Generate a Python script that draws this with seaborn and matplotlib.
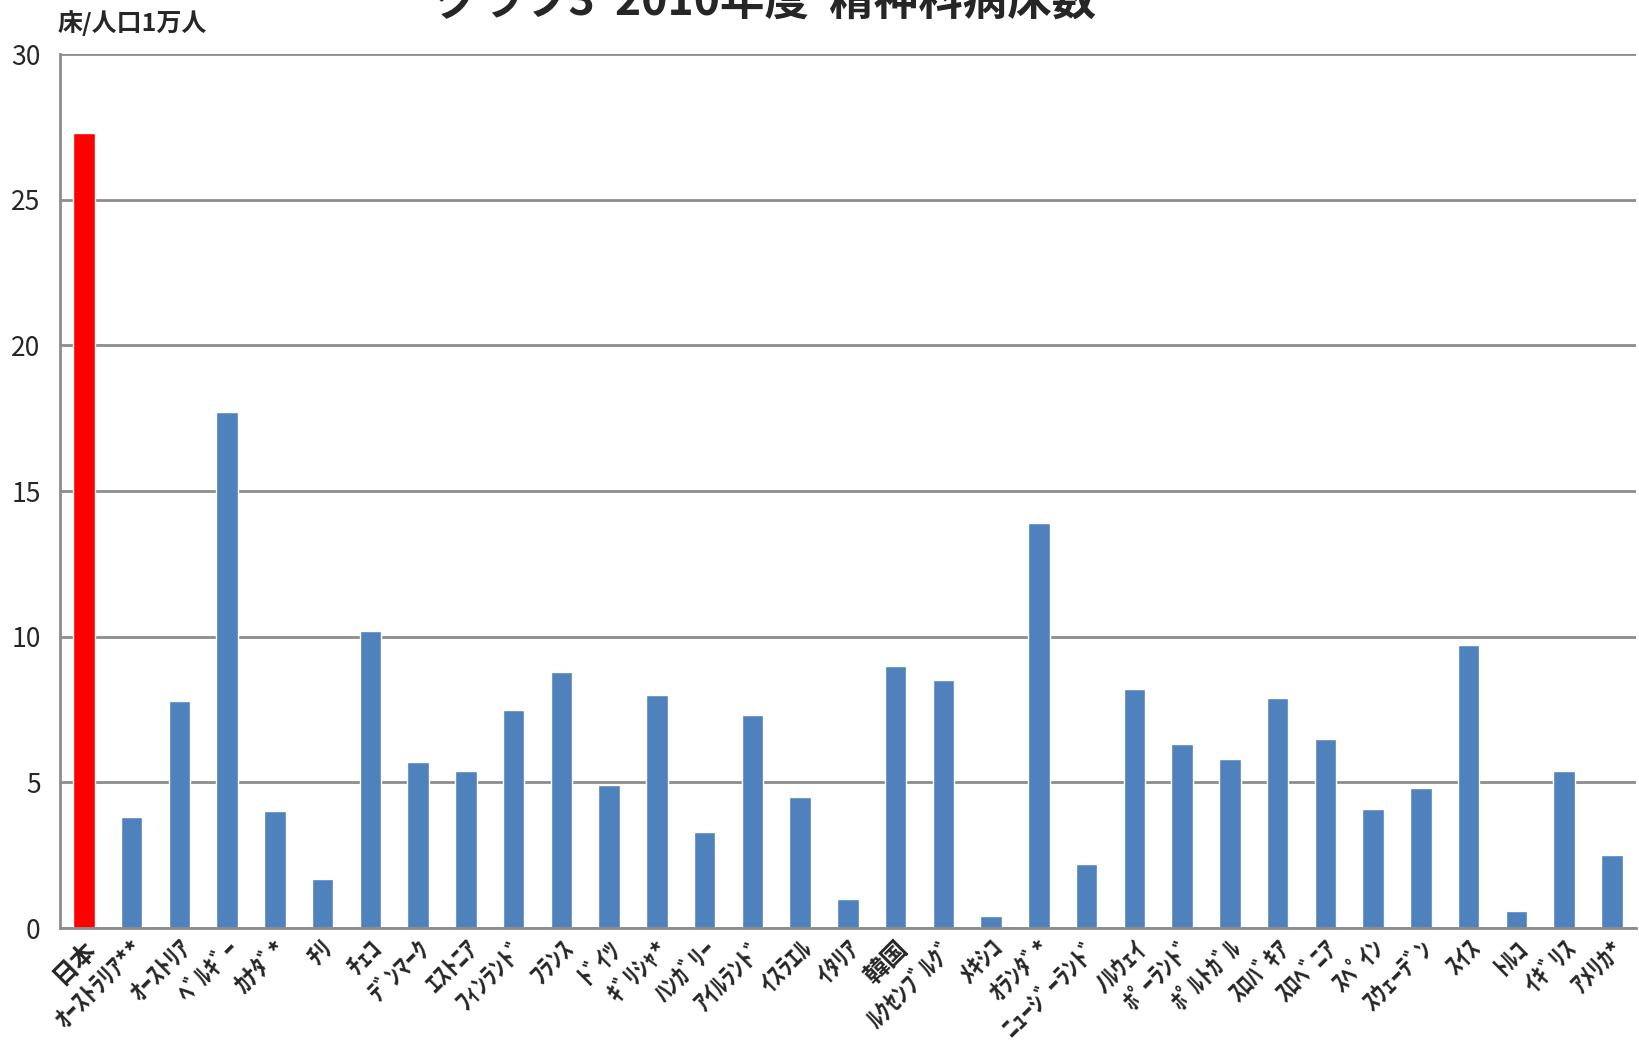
import pandas as pd
import seaborn as sns
import matplotlib.pyplot as plt

# 2010年度 OECD各国の精神科病床数 (床/人口1万人)
countries = ["日本", "ｵｰｽﾄﾗﾘｱ**", "ｵｰｽﾄﾘｱ", "ﾍﾞﾙｷﾞｰ", "ｶﾅﾀﾞ*", "ﾁﾘ", "ﾁｪｺ",
             "ﾃﾞﾝﾏｰｸ", "ｴｽﾄﾆｱ", "ﾌｨﾝﾗﾝﾄﾞ", "ﾌﾗﾝｽ", "ﾄﾞｲﾂ", "ｷﾞﾘｼｬ*", "ﾊﾝｶﾞﾘｰ",
             "ｱｲﾙﾗﾝﾄﾞ", "ｲｽﾗｴﾙ", "ｲﾀﾘｱ", "韓国", "ﾙｸｾﾝﾌﾞﾙｸﾞ", "ﾒｷｼｺ", "ｵﾗﾝﾀﾞ*",
             "ﾆｭｰｼﾞｰﾗﾝﾄﾞ", "ﾉﾙｳｪｲ", "ﾎﾟｰﾗﾝﾄﾞ", "ﾎﾟﾙﾄｶﾞﾙ", "ｽﾛﾊﾞｷｱ", "ｽﾛﾍﾞﾆｱ",
             "ｽﾍﾟｲﾝ", "ｽｳｪｰﾃﾞﾝ", "ｽｲｽ", "ﾄﾙｺ", "ｲｷﾞﾘｽ", "ｱﾒﾘｶ*"]
beds = [27.3, 3.8, 7.8, 17.7, 4.0, 1.7, 10.2,
        5.7, 5.4, 7.5, 8.8, 4.9, 8.0, 3.3,
        7.3, 4.5, 1.0, 9.0, 8.5, 0.4, 13.9,
        2.2, 8.2, 6.3, 5.8, 7.9, 6.5,
        4.1, 4.8, 9.7, 0.6, 5.4, 2.5]

df = pd.DataFrame({"country": countries, "beds": beds})
df["group"] = ["japan" if c == "日本" else "other" for c in countries]

sns.set_style("white")
plt.rcParams['font.family'] = ['Noto Sans CJK JP', 'DejaVu Sans']

fig = plt.figure(figsize=(16.39, 10.51), dpi=100)
ax = fig.add_axes([0.0366, 0.117, 0.9614, 0.8316])

sns.barplot(data=df, x="country", y="beds", hue="group",
            palette={"japan": "#ff0000", "other": "#4f81bd"},
            dodge=False, width=0.45, saturation=1, legend=False, ax=ax)

ax.set_ylim(0, 30)
ax.set_xlim(-0.5, len(countries) - 0.5)
ax.set_yticks(range(0, 31, 5))
ax.yaxis.grid(True, color="#8c8c8c", linewidth=2)
ax.set_axisbelow(True)
for s in ["top", "right"]:
    ax.spines[s].set_visible(False)
for s in ["left", "bottom"]:
    ax.spines[s].set_color("#8c8c8c")
    ax.spines[s].set_linewidth(2)

ax.tick_params(axis="y", labelsize=19, pad=14, length=0)
ax.tick_params(axis="x", length=0, pad=6)
ax.set_xticks(range(len(countries)))
ax.set_xticklabels(countries, rotation=45, ha="right", rotation_mode="anchor",
                   fontsize=18, fontweight="bold")
ax.set_xlabel("")
ax.set_ylabel("")

fig.text(0.035, 0.978, "床/人口1万人", fontsize=18, fontweight="bold", va="center")
fig.text(0.467, 0.998, "グラフ3  2010年度  精神科病床数", fontsize=32,
         fontweight="bold", ha="center", va="center")

fig.savefig("out.png", dpi=100)
